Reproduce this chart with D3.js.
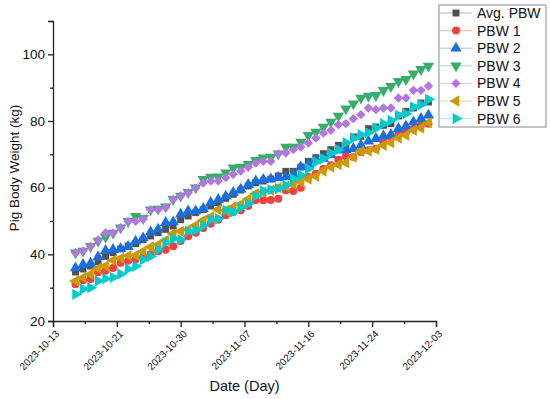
<!DOCTYPE html>
<html>
<head>
<meta charset="utf-8">
<script src="https://cdn.jsdelivr.net/npm/d3@7"></script>
<style>
  body { margin: 0; background: #fff; }
  svg text { font-family: Arial, "Liberation Sans", sans-serif; fill: #111; }
</style>
</head>
<body>
<div id="chart"></div>
<script>
const width = 550;
const height = 399;
const margin = {top: 21, right: 114, bottom: 78, left: 53};

// daily measurements, 2023-10-16 .. 2023-12-02
const firstDay = "2023-10-16";
const lastDay = "2023-12-03";

const avgPBW = [34.7, 35.6, 36.5, 37.8, 39.4, 40.5, 41.6, 42.5, 43.2, 44.4, 45.5, 46.5, 47.5, 48.5, 50.4, 51.5,
  52.5, 53.4, 54.5, 55.5, 56.8, 58.0, 59.3, 60.5, 61.5, 62.0, 62.6, 63.5, 64.9, 64.9, 66.2, 67.9,
  69.0, 70.2, 71.4, 72.7, 72.7, 75.2, 75.4, 77.7, 78.2, 78.7, 79.2, 81.5, 82.9, 83.9, 85.4, 85.7];
const pbw1 = [31.0, 32.2, 32.6, 34.6, 35.1, 35.9, 37.5, 38.1, 38.5, 39.2, 40.0, 40.9, 41.4, 42.4, 44.0, 45.4,
  46.5, 47.9, 49.2, 50.4, 51.7, 52.7, 53.2, 54.5, 56.3, 56.2, 56.3, 56.7, 59.2, 59.0, 60.0, 63.2,
  64.2, 65.7, 66.7, 68.4, 69.4, 69.2, 70.7, 71.2, 71.7, 73.7, 75.2, 75.9, 76.7, 77.7, 78.7, 79.2];
const pbw2 = [35.9, 36.9, 37.3, 39.2, 41.1, 41.4, 41.7, 42.3, 43.9, 44.9, 46.7, 47.5, 49.5, 49.7, 52.0, 53.0,
  53.0, 53.7, 55.5, 56.4, 57.4, 58.5, 59.5, 60.9, 62.0, 62.4, 62.6, 63.0, 63.2, 64.0, 66.2, 66.9,
  68.2, 68.7, 69.9, 71.2, 71.4, 71.7, 72.7, 73.9, 74.7, 75.5, 75.9, 77.7, 78.5, 79.7, 80.7, 81.7];
const pbw3 = [40.5, 41.0, 42.4, 44.0, 45.2, 46.4, 48.0, 49.9, 51.4, 50.8, 53.4, 53.6, 54.3, 56.5, 57.5, 58.6,
  60.0, 62.5, 63.2, 63.3, 64.5, 66.0, 66.2, 67.0, 68.2, 69.0, 69.2, 70.2, 72.2, 72.2, 73.7, 75.7,
  76.7, 78.2, 79.7, 81.5, 83.7, 85.2, 86.9, 87.5, 87.7, 89.2, 90.4, 91.9, 92.5, 94.2, 95.5, 96.5];
const pbw4 = [40.5, 41.0, 42.4, 44.3, 46.4, 46.4, 48.0, 49.9, 49.9, 50.6, 53.4, 53.4, 54.1, 56.5, 57.5, 58.5,
  59.9, 61.4, 62.0, 62.0, 63.0, 64.0, 65.0, 66.1, 67.4, 67.9, 67.9, 70.2, 70.4, 71.4, 72.2, 73.4,
  74.9, 76.4, 77.2, 78.9, 79.2, 80.7, 81.9, 83.9, 83.4, 83.9, 83.9, 86.9, 86.9, 89.2, 89.2, 90.5];
const pbw5 = [32.0, 33.0, 34.0, 35.8, 36.5, 38.2, 38.8, 39.6, 39.7, 40.9, 42.2, 42.9, 44.2, 46.2, 46.9, 47.4,
  48.7, 50.2, 51.2, 53.4, 53.2, 54.2, 55.0, 56.6, 58.2, 58.7, 59.2, 60.0, 60.4, 61.0, 61.7, 62.6,
  63.4, 65.0, 66.2, 66.9, 67.5, 69.2, 70.9, 71.0, 71.5, 72.7, 73.5, 74.9, 75.7, 77.2, 77.9, 79.5];
const pbw6 = [28.0, 29.6, 30.0, 32.0, 32.7, 33.1, 34.1, 35.6, 36.4, 38.4, 39.4, 41.4, 43.5, 44.7, 44.4, 46.9,
  47.2, 48.6, 50.4, 50.7, 53.2, 52.7, 54.0, 55.2, 57.5, 59.0, 59.4, 59.7, 60.7, 62.7, 63.7, 65.7,
  67.7, 68.7, 70.4, 71.4, 73.5, 74.9, 75.9, 76.5, 77.9, 79.2, 80.2, 81.7, 82.2, 84.2, 84.9, 86.5];

const seriesNames = ["Avg. PBW", "PBW 1", "PBW 2", "PBW 3", "PBW 4", "PBW 5", "PBW 6"];
const seriesValues = [avgPBW, pbw1, pbw2, pbw3, pbw4, pbw5, pbw6];
const colors = ["#515151", "#F14040", "#1A6FDF", "#37AD6B", "#B177DE", "#CC9900", "#00CBCC"];

const xTickLabels = ["2023-10-13", "2023-10-21", "2023-10-30", "2023-11-07", "2023-11-16", "2023-11-24", "2023-12-03"];
const yTicks = [20, 40, 60, 80, 100];
const yMinorTicks = [30, 50, 70, 90, 110];

const parse = d3.utcParse("%Y-%m-%d");
const days = d3.utcDay.range(parse(firstDay), parse(lastDay));

// marker shape per series: symbol + rotation
const shapes = [
  {type: d3.symbolSquare, size: 48, rot: 0},
  {type: d3.symbolCircle, size: 50, rot: 0},
  {type: d3.symbolTriangle, size: 56, rot: 0},
  {type: d3.symbolTriangle, size: 56, rot: 180},
  {type: d3.symbolSquare, size: 44, rot: 45},
  {type: d3.symbolTriangle, size: 56, rot: -90},
  {type: d3.symbolTriangle, size: 56, rot: 90}
];

const svg = d3.select("#chart")
  .append("svg")
  .attr("width", width)
  .attr("height", height);

const innerW = width - margin.left - margin.right;
const innerH = height - margin.top - margin.bottom;

const x = d3.scaleUtc()
  .domain([parse(xTickLabels[0]), parse(xTickLabels[xTickLabels.length - 1])])
  .range([margin.left, margin.left + innerW]);

const y = d3.scaleLinear()
  .domain([20, 110])
  .range([margin.top + innerH, margin.top]);

// x ticks are evenly spaced across the range, labelled by the date they fall on
const xMajor = xTickLabels.map((d, i) => x.invert(margin.left + i * innerW / (xTickLabels.length - 1)));
const xMinor = d3.range(xTickLabels.length - 1).map(i => x.invert(margin.left + (i + 0.5) * innerW / (xTickLabels.length - 1)));

// axes
const xAxisG = svg.append("g")
  .attr("transform", `translate(0,${margin.top + innerH})`)
  .call(d3.axisBottom(x).tickValues(xMajor).tickSize(6).tickFormat(""));
svg.append("g")
  .attr("transform", `translate(0,${margin.top + innerH})`)
  .call(d3.axisBottom(x).tickValues(xMinor).tickSize(3).tickFormat(""))
  .call(g => g.select(".domain").remove());

xAxisG.selectAll(".tick")
  .append("text")
  .data(xTickLabels)
  .attr("transform", "translate(4,11) rotate(-45)")
  .attr("text-anchor", "end")
  .attr("dy", "0.35em")
  .style("font-size", "10px")
  .text(d => d);

svg.append("g")
  .attr("transform", `translate(${margin.left},0)`)
  .call(d3.axisLeft(y).tickValues(yTicks).tickSize(5).tickPadding(3))
  .call(g => g.selectAll("text").style("font-size", "13.5px").attr("fill", "#111"));
svg.append("g")
  .attr("transform", `translate(${margin.left},0)`)
  .call(d3.axisLeft(y).tickValues(yMinorTicks).tickSize(3).tickFormat(""))
  .call(g => g.select(".domain").remove());

svg.selectAll(".domain, .tick line").attr("stroke", "#222").attr("stroke-width", 1.3);

// axis titles
svg.append("text")
  .attr("x", margin.left + innerW / 2)
  .attr("y", 391)
  .attr("text-anchor", "middle")
  .style("font-size", "14.5px")
  .text("Date (Day)");

svg.append("text")
  .attr("transform", `translate(19,${margin.top + innerH / 2 - 3}) rotate(-90)`)
  .attr("text-anchor", "middle")
  .style("font-size", "13.5px")
  .text("Pig Body Weight (kg)");

// lines + markers
const line = d3.line()
  .x((d, i) => x(days[i]))
  .y(d => y(d));

seriesValues.forEach((vals, s) => {
  const g = svg.append("g");
  g.append("path")
    .datum(vals)
    .attr("d", line)
    .attr("fill", "none")
    .attr("stroke", colors[s])
    .attr("stroke-opacity", 0.35)
    .attr("stroke-width", 1);
  const sym = d3.symbol().type(shapes[s].type).size(shapes[s].size);
  g.selectAll("path.m")
    .data(vals)
    .enter()
    .append("path")
    .attr("class", "m")
    .attr("d", sym)
    .attr("transform", (d, i) => `translate(${x(days[i])},${y(d)}) rotate(${shapes[s].rot})`)
    .attr("fill", colors[s]);
});

// legend
const legend = svg.append("g").attr("transform", "translate(439,5)");
legend.append("rect")
  .attr("width", 107)
  .attr("height", 122)
  .attr("fill", "#fff")
  .attr("stroke", "#888")
  .attr("stroke-width", 1);

const item = legend.selectAll("g.item")
  .data(seriesNames)
  .enter()
  .append("g")
  .attr("class", "item")
  .attr("transform", (d, i) => `translate(0,${8 + i * 17.6})`);

item.append("line")
  .attr("x1", 1).attr("x2", 33)
  .attr("stroke", (d, i) => colors[i])
  .attr("stroke-opacity", 0.35)
  .attr("stroke-width", 1.2);

item.append("path")
  .attr("d", (d, i) => d3.symbol().type(shapes[i].type).size(shapes[i].size)())
  .attr("transform", (d, i) => `translate(17,0) rotate(${shapes[i].rot})`)
  .attr("fill", (d, i) => colors[i]);

item.append("text")
  .attr("x", 38)
  .attr("dy", "0.36em")
  .style("font-size", "14px")
  .text(d => d);
</script>
</body>
</html>
